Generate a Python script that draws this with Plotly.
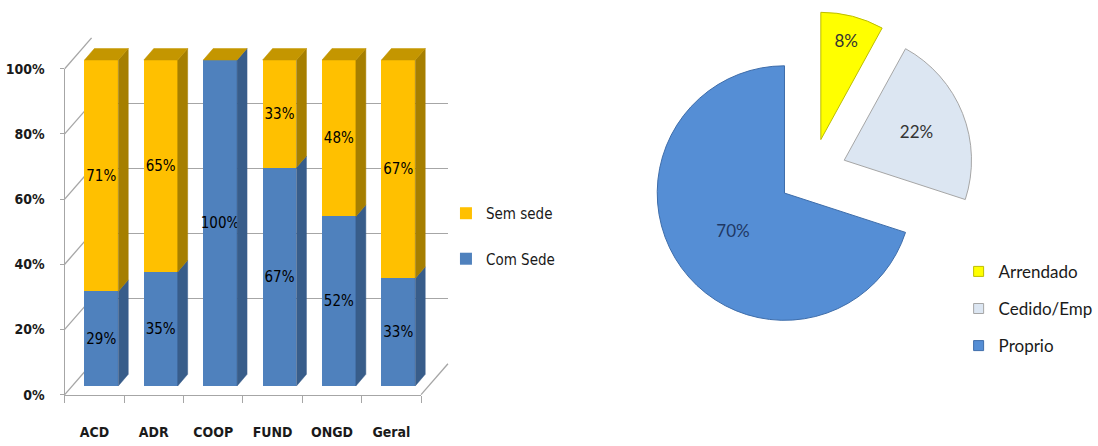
import plotly.graph_objects as go

# ---------------- data ----------------
categories = ["ACD", "ADR", "COOP", "FUND", "ONGD", "Geral"]
com_sede = [29, 35, 100, 67, 52, 33]
sem_sede = [71, 65, 0, 33, 48, 67]
y_ticks = [0, 20, 40, 60, 80, 100]
y_tick_labels = ["0%", "20%", "40%", "60%", "80%", "100%"]

pie_labels = ["Arrendado", "Cedido/Emp", "Proprio"]
pie_values = [8, 22, 70]

# ---------------- style / geometry ----------------
W, H = 1098, 446
def fx(px): return px / W
def fy(py): return (H - py) / H

FONT = "DejaVu Sans Condensed, Liberation Sans Narrow, sans-serif"
PIE_FONT = "Lato, Liberation Sans, sans-serif"
TXT = "#1a1a1a"
GRID = "#A6A6A6"

GOLD, GOLD_SIDE, GOLD_TOP = "#FFC000", "#A67F00", "#C49600"
BLUE, BLUE_SIDE = "#4F81BD", "#385D8A"
PIE_COLORS = ["#FFFF00", "#DCE6F2", "#558ED5"]
PIE_LINES = ["#BDBD00", "#A6A6A6", "#3E6DAA"]
PIE_TXT = ["#333333", "#333333", "#1F3864"]

FRONT_L, FRONT_R = 65, 423      # front floor edge (px)
FRONT_B, FRONT_T = 401, 63      # 0% / 100% on the front axis (px)
DEPTH_X, DEPTH_Y = 27, 32       # wall depth offset (px)
BAR_OFF_X, BAR_OFF_Y = 7, 9     # bars front face offset from front axis (px)
BAR_DX, BAR_DY = 10, 12         # bar depth (px)
bar_w = 0.57

n = len(categories)
cat_px = (FRONT_R - FRONT_L) / n
px_per_pct = (FRONT_B - FRONT_T) / 100.0
bar_bottom = FRONT_B - BAR_OFF_Y
y_top_range = 106
ddx = BAR_DX / cat_px
ddy = BAR_DY / px_per_pct

fig = go.Figure()

# ---- back wall subplot anchor (no visible marks) ----
fig.add_trace(go.Scatter(x=[None], y=[None], mode="markers", showlegend=False,
                         hoverinfo="skip", xaxis="x", yaxis="y"))
# ---- front axes subplot anchor (no visible marks) ----
fig.add_trace(go.Scatter(x=[None], y=[None], mode="markers", showlegend=False,
                         hoverinfo="skip", xaxis="x2", yaxis="y2"))

# ---- bars (x3/y3) ----
fig.add_trace(go.Bar(
    x=list(range(n)), y=com_sede, name="Com Sede", width=bar_w,
    marker=dict(color=BLUE, line=dict(width=0)),
    text=[f"{v}%" if v else "" for v in com_sede],
    textposition="inside", insidetextanchor="middle", textangle=0,
    constraintext="none", textfont=dict(family=FONT, size=15, color="#000000"),
    xaxis="x3", yaxis="y3", legend="legend", legendgroup="com", legendrank=2,
    hoverinfo="skip"))
fig.add_trace(go.Bar(
    x=list(range(n)), y=sem_sede, name="Sem sede", width=bar_w,
    marker=dict(color=GOLD, line=dict(width=0)),
    text=[f"{v}%" if v else "" for v in sem_sede],
    textposition="inside", insidetextanchor="middle", textangle=0,
    constraintext="none", textfont=dict(family=FONT, size=15, color="#000000"),
    xaxis="x3", yaxis="y3", legend="legend", legendgroup="sem", legendrank=1,
    hoverinfo="skip"))

# 3D side and top faces, computed from the same data
def side_faces(bottoms, tops):
    xs, ys = [], []
    for i, (b, t) in enumerate(zip(bottoms, tops)):
        if t - b <= 0:
            continue
        xr = i + bar_w / 2
        xs += [xr, xr + ddx, xr + ddx, xr, xr, None]
        ys += [b, b + ddy, t + ddy, t, b, None]
    return xs, ys

bx, by = side_faces([0] * n, com_sede)
gx, gy = side_faces(com_sede, [c + s for c, s in zip(com_sede, sem_sede)])
for xs, ys, col in [(bx, by, BLUE_SIDE), (gx, gy, GOLD_SIDE)]:
    fig.add_trace(go.Scatter(x=xs, y=ys, fill="toself", fillcolor=col, mode="lines",
                             line=dict(width=0.5, color=col), showlegend=False,
                             hoverinfo="skip", xaxis="x3", yaxis="y3"))
tx, ty = [], []
for i, (c, s) in enumerate(zip(com_sede, sem_sede)):
    top = c + s
    xl, xr = i - bar_w / 2, i + bar_w / 2
    tx += [xl, xl + ddx, xr + ddx, xr, xl, None]
    ty += [top, top + ddy, top + ddy, top, top, None]
fig.add_trace(go.Scatter(x=tx, y=ty, fill="toself", fillcolor=GOLD_TOP, mode="lines",
                         line=dict(width=0.5, color=GOLD_TOP), showlegend=False,
                         hoverinfo="skip", xaxis="x3", yaxis="y3"))

# ---- pie ----
pull = 0.27
r_px = 132
cx, cy = 816, 171
half = r_px * (1 + pull)
fig.add_trace(go.Pie(
    labels=pie_labels, values=pie_values, sort=False, direction="clockwise",
    rotation=0, pull=[pull] * len(pie_values),
    marker=dict(colors=PIE_COLORS, line=dict(color=PIE_LINES, width=1)),
    texttemplate="%{percent:.0%}", textposition="inside",
    insidetextorientation="horizontal",
    textfont=dict(family=PIE_FONT, size=17, color=PIE_TXT),
    domain=dict(x=[fx(cx - half), fx(cx + half)],
                y=[max(0, fy(cy + half)), min(1, fy(cy - half))]),
    showlegend=False, hoverinfo="skip"))

# pie legend entries (legend2)
for lab, col, lc in zip(pie_labels, PIE_COLORS, PIE_LINES):
    fig.add_trace(go.Scatter(x=[None], y=[None], mode="markers", name=lab,
                             marker=dict(symbol="square", size=10, color=col,
                                         line=dict(color=lc, width=1)),
                             legend="legend2", legendgroup=lab, showlegend=True,
                             xaxis="x", yaxis="y", hoverinfo="skip"))

# ---- wall / floor lines computed from tick values ----
shapes = []
for v in y_ticks:
    yf = FRONT_B - v * px_per_pct
    shapes.append(dict(type="line", xref="paper", yref="paper", layer="below",
                       x0=fx(FRONT_L), y0=fy(yf),
                       x1=fx(FRONT_L + DEPTH_X), y1=fy(yf - DEPTH_Y),
                       line=dict(color=GRID, width=1.3)))
shapes.append(dict(type="line", xref="paper", yref="paper", layer="below",
                   x0=fx(FRONT_R), y0=fy(FRONT_B),
                   x1=fx(FRONT_R + DEPTH_X), y1=fy(FRONT_B - DEPTH_Y),
                   line=dict(color=GRID, width=1.3)))

fig.update_layout(
    width=W, height=H, margin=dict(l=0, r=0, t=0, b=0),
    paper_bgcolor="white", plot_bgcolor="rgba(0,0,0,0)",
    barmode="stack", shapes=shapes,
    # back wall gridlines
    xaxis=dict(domain=[fx(FRONT_L + DEPTH_X), fx(FRONT_R + DEPTH_X)], range=[0, 1],
               visible=False, anchor="y"),
    yaxis=dict(domain=[fy(FRONT_B - DEPTH_Y), fy(FRONT_T - DEPTH_Y)], range=[0, 100],
               tickvals=y_ticks, showgrid=True, gridcolor=GRID, gridwidth=1.3,
               showticklabels=False, zeroline=False, ticks="", anchor="x"),
    # front axes with labels
    xaxis2=dict(domain=[fx(FRONT_L), fx(FRONT_R)], range=[-0.5, n - 0.5],
                tickvals=list(range(n)), ticktext=categories, ticks="",
                showgrid=False, zeroline=False, showline=True, linecolor=GRID, linewidth=1.3,
                tickfont=dict(family=FONT, size=14, color=TXT, weight="bold"),
                ticklabelstandoff=24,
                minor=dict(tickvals=[i - 0.5 for i in range(n + 1)], ticks="outside",
                           ticklen=7, tickcolor=GRID, tickwidth=1.3, showgrid=False),
                anchor="y2", fixedrange=True),
    yaxis2=dict(domain=[fy(FRONT_B), fy(FRONT_T)], range=[0, 100],
                tickvals=y_ticks, ticktext=y_tick_labels, ticks="outside", ticklen=4,
                tickcolor=GRID, showgrid=False, zeroline=False, showline=True,
                linecolor=GRID, linewidth=1.3,
                tickfont=dict(family=FONT, size=14, color=TXT, weight="bold"),
                ticklabelstandoff=12,
                anchor="x2", fixedrange=True),
    # bars
    xaxis3=dict(domain=[fx(FRONT_L + BAR_OFF_X), fx(FRONT_R + BAR_OFF_X)],
                range=[-0.5, n - 0.5], visible=False, anchor="y3"),
    yaxis3=dict(domain=[fy(bar_bottom), fy(bar_bottom - y_top_range * px_per_pct)],
                range=[0, y_top_range], visible=False, anchor="x3"),
    legend=dict(x=fx(448), y=fy(196), xanchor="left", yanchor="top",
                font=dict(family=FONT, size=15, color=TXT), tracegroupgap=23,
                bgcolor="rgba(0,0,0,0)"),
    legend2=dict(x=fx(963), y=fy(255), xanchor="left", yanchor="top",
                 font=dict(family=PIE_FONT, size=17, color=TXT), tracegroupgap=12,
                 bgcolor="rgba(0,0,0,0)"),
)

fig.write_html("out.html", config={"displayModeBar": False},
               post_script="document.body.style.margin='0px';")
